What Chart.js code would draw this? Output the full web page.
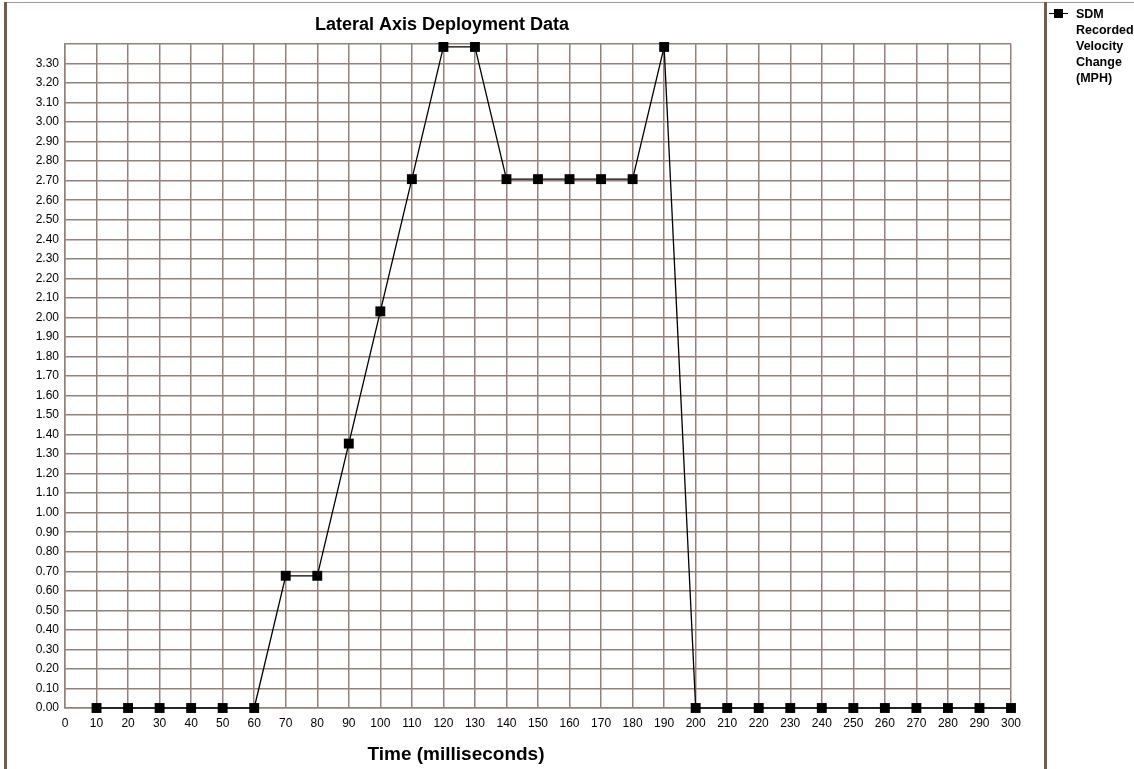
<!DOCTYPE html>
<html>
<head>
<title>Lateral Axis Deployment Data</title>
<script src="https://cdn.jsdelivr.net/npm/chart.js"></script>
<style>
  body { margin: 0; background: #fff; overflow: hidden; font-family: "Liberation Sans", Arial, sans-serif; }
  #wrap { position: relative; width: 1134px; height: 769px; overflow: hidden; }
  #myChart { position: absolute; left: 0; top: 0; }
  .frameL { position: absolute; left: 4px; top: 2px; width: 3px; height: 767px; background: #735a52; }
  .frameT { position: absolute; left: 4px; top: 2px; width: 1130px; height: 1px; background: #a8948c; }
  .divider { position: absolute; left: 1044px; top: 2px; width: 3px; height: 767px; background: #735a52; }
  #legend { position: absolute; left: 1049px; top: 6px; width: 90px; font-weight: bold; font-size: 12.5px; line-height: 16px; color: #000; }
  #legend .mark { position: absolute; left: 0; top: 7px; width: 19px; height: 1px; background: #000; }
  #legend .mark span { position: absolute; left: 5px; top: -4px; width: 9px; height: 9px; background: #000; }
  #legend .txt { position: absolute; left: 27px; top: 0; white-space: nowrap; }
</style>
</head>
<body>
<div id="wrap">
  <canvas id="myChart" width="1134" height="769"></canvas>
  <div class="frameT"></div>
  <div class="frameL"></div>
  <div class="divider"></div>
  <div id="legend"><div class="mark"><span></span></div><div class="txt" id="legendText"></div></div>
</div>
<script>
// chart data
var times = [10, 20, 30, 40, 50, 60, 70, 80, 90, 100, 110, 120, 130, 140, 150,
             160, 170, 180, 190, 200, 210, 220, 230, 240, 250, 260, 270, 280, 290, 300];
var velocity = [0, 0, 0, 0, 0, 0, 0.677, 0.677, 1.354, 2.031, 2.708, 3.385, 3.385, 2.708, 2.708,
                2.708, 2.708, 2.708, 3.385, 0, 0, 0, 0, 0, 0, 0, 0, 0, 0, 0];
var seriesName = ['SDM', 'Recorded', 'Velocity', 'Change', '(MPH)'];
var chartTitle = 'Lateral Axis Deployment Data';
var xTitle = 'Time (milliseconds)';

document.getElementById('legendText').innerHTML = seriesName.join('<br>');

var gridColor = '#98807a';
var tickFont = { family: '"Liberation Sans", Arial, sans-serif', size: 12 };

// titles drawn where the original puts them (not centred on the plot)
var titlesPlugin = {
    id: 'titles',
    afterDraw: function(chart) {
        var ctx = chart.ctx;
        ctx.save();
        ctx.fillStyle = '#000';
        ctx.textAlign = 'center';
        ctx.textBaseline = 'middle';
        ctx.font = 'bold 18px "Liberation Sans", Arial, sans-serif';
        ctx.fillText(chartTitle, 442, 25);
        ctx.font = 'bold 19px "Liberation Sans", Arial, sans-serif';
        ctx.fillText(xTitle, 456, 755);
        ctx.restore();
    }
};

var points = times.map(function(t, i) { return { x: t, y: velocity[i] }; });

var myChart = new Chart(document.getElementById('myChart').getContext('2d'), {
    type: 'line',
    data: {
        datasets: [{
            label: seriesName.join(' '),
            data: points,
            borderColor: '#000',
            borderWidth: 1.3,
            backgroundColor: '#000',
            pointStyle: 'rect',
            pointRadius: 7,
            pointBorderWidth: 0,
            fill: false,
            clip: false,
            tension: 0
        }]
    },
    plugins: [titlesPlugin],
    options: {
        responsive: false,
        animation: false,
        layout: { padding: { left: 5, top: 44, right: 123, bottom: 0 } },
        plugins: {
            legend: { display: false },
            tooltip: { enabled: false }
        },
        scales: {
            x: {
                type: 'linear',
                min: 0,
                max: 300,
                afterFit: function(s) { s.height = 61; },
                grid: { color: gridColor, lineWidth: 1.5, drawTicks: false },
                border: { color: gridColor, width: 1.5 },
                ticks: {
                    stepSize: 10,
                    padding: 8,
                    color: '#000',
                    maxRotation: 0,
                    autoSkip: false,
                    font: tickFont
                }
            },
            y: {
                min: 0,
                max: 3.4,
                afterFit: function(s) { s.width = 60; },
                grid: { color: gridColor, lineWidth: 1.5, drawTicks: false },
                border: { color: gridColor, width: 1.5 },
                ticks: {
                    stepSize: 0.1,
                    padding: 6,
                    color: '#000',
                    autoSkip: false,
                    font: tickFont,
                    callback: function(v) { return v > 3.35 ? '' : v.toFixed(2); }
                }
            }
        }
    }
});
</script>
</body>
</html>
